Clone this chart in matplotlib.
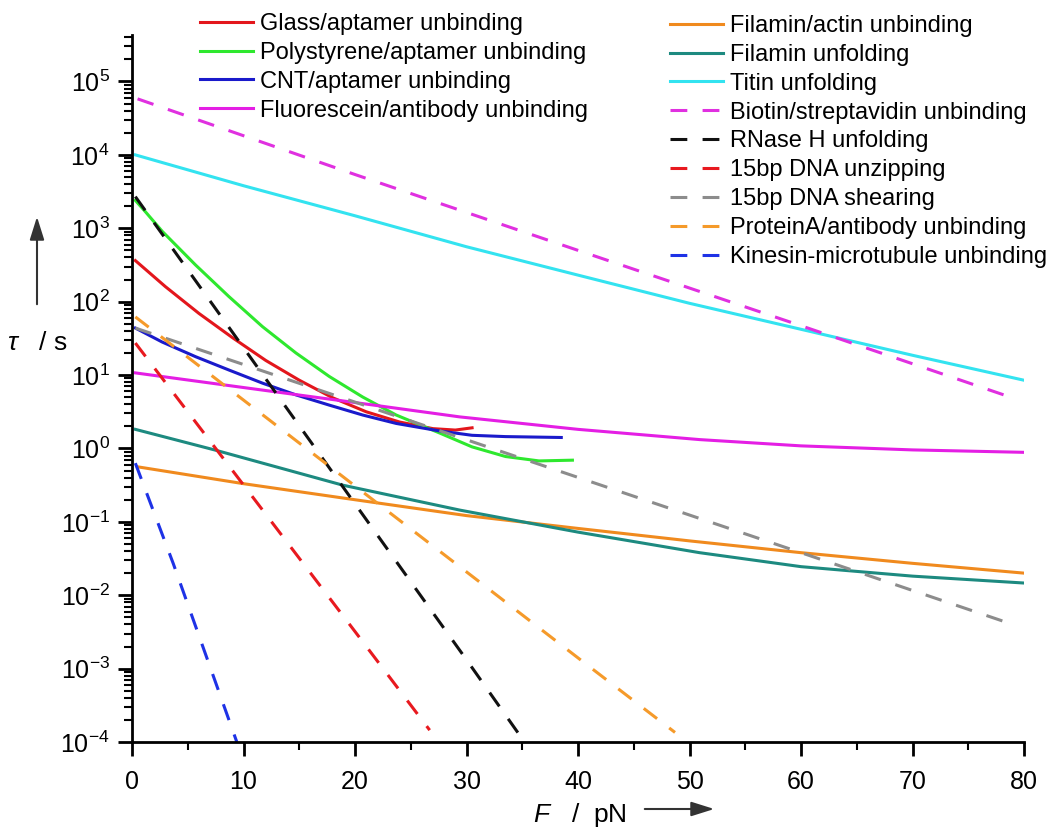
import matplotlib
matplotlib.use("Agg")
import matplotlib.pyplot as plt
import numpy as np
from matplotlib.patches import FancyArrowPatch
from matplotlib.ticker import LogLocator, MultipleLocator, NullFormatter

# force values (pN) and lifetimes (s)
glass_x = [0.3, 3, 6, 9, 12, 15, 18, 21, 24, 27, 29, 30.5]
glass_y = [363, 160, 69.2, 32.4, 15.8, 8.51, 4.90, 3.16, 2.29, 1.86, 1.78, 1.91]

poly_x = [0.3, 1.2, 2.7, 5.7, 8.7, 11.7, 14.7, 17.7, 20.7, 23.7, 27.6, 30.5, 33.5, 36.5, 39.5]
poly_y = [2400, 1680, 912, 316, 117, 45.7, 20.0, 9.55, 5.01, 2.85, 1.62, 1.05, 0.776, 0.676, 0.692]

cnt_x = [0.3, 2.7, 5.7, 8.7, 11.7, 14.7, 17.7, 20.7, 23.7, 27.6, 30.5, 33.5, 38.5]
cnt_y = [43.7, 28.2, 17.8, 11.7, 7.76, 5.37, 3.89, 2.85, 2.19, 1.73, 1.51, 1.45, 1.41]

fluo_x = [0.3, 10, 20, 29.4, 40, 50.9, 60, 70, 80]
fluo_y = [10.7, 6.76, 4.22, 2.69, 1.82, 1.32, 1.084, 0.955, 0.885]

filact_x = [0.5, 10, 20, 30, 40, 50, 60, 70, 80]
filact_y = [0.562, 0.331, 0.200, 0.1216, 0.0813, 0.0550, 0.0380, 0.0272, 0.020]

filunf_x = [0.3, 7.4, 18.9, 29.4, 40, 50.9, 60, 70, 80]
filunf_y = [1.82, 0.955, 0.316, 0.1445, 0.0724, 0.038, 0.0245, 0.0182, 0.01466]

titin_x = [0.3, 10, 20, 30, 40, 50, 60, 70, 80]
titin_y = [1.0e4, 3.8e3, 1.48e3, 560, 230, 95, 42, 18.6, 8.5]

biotin_x = [0.5, 20, 40, 60, 79.3]
biotin_y = [5.8e4, 5.4e3, 500, 47, 4.7]

rnase_x = [0.3, 10, 20, 30, 35.2]
rnase_y = [2.7e3, 23.6, 0.176, 1.32e-3, 1.0e-4]

unzip_x = [0.3, 10, 20, 26.7]
unzip_y = [27.3, 0.318, 3.2e-3, 1.45e-4]

shear_x = [0.3, 20, 40, 60, 79.2]
shear_y = [43.7, 4.28, 0.403, 0.038, 3.9e-3]

protA_x = [0.3, 10, 20, 30, 40, 48.7]
protA_y = [62, 4.56, 0.308, 0.0208, 1.4e-3, 1.35e-4]

kinesin_x = [0.3, 3.7, 9.4]
kinesin_y = [0.63, 0.027, 1.0e-4]

solid_series = [
    ("Glass/aptamer unbinding", glass_x, glass_y, "#e3161c"),
    ("Polystyrene/aptamer unbinding", poly_x, poly_y, "#2ee82e"),
    ("CNT/aptamer unbinding", cnt_x, cnt_y, "#1a1acb"),
    ("Fluorescein/antibody unbinding", fluo_x, fluo_y, "#e41ee4"),
    ("Filamin/actin unbinding", filact_x, filact_y, "#f08a1e"),
    ("Filamin unfolding", filunf_x, filunf_y, "#1d8a80"),
    ("Titin unfolding", titin_x, titin_y, "#33e3f0"),
]
dashed_series = [
    ("Biotin/streptavidin unbinding", biotin_x, biotin_y, "#e030e0"),
    ("RNase H unfolding", rnase_x, rnase_y, "#111111"),
    ("15bp DNA unzipping", unzip_x, unzip_y, "#e8191f"),
    ("15bp DNA shearing", shear_x, shear_y, "#8c8c8c"),
    ("ProteinA/antibody unbinding", protA_x, protA_y, "#f59a2a"),
    ("Kinesin-microtubule unbinding", kinesin_x, kinesin_y, "#1e32e6"),
]

plt.rcParams["font.family"] = "Liberation Sans"
plt.rcParams["mathtext.fontset"] = "custom"
plt.rcParams["mathtext.rm"] = "Liberation Sans"
plt.rcParams["mathtext.it"] = "Liberation Sans:italic"

W, H = 1050, 833
fig = plt.figure(figsize=(W / 100, H / 100), dpi=100)
ax = fig.add_axes([132 / W, 91 / H, 892 / W, 707 / H])

handles = []
for name, xs, ys, col in solid_series:
    (ln,) = ax.plot(xs, ys, color=col, lw=2.2, label=name)
    handles.append(ln)
for name, xs, ys, col in dashed_series:
    (ln,) = ax.plot(xs, ys, color=col, lw=2.2, ls=(0, (5.5, 5)), label=name)
    handles.append(ln)

ax.set_yscale("log")
ax.set_xlim(0, 80)
ax.set_ylim(1e-4, 4.3e5)

ax.xaxis.set_major_locator(MultipleLocator(10))
ax.xaxis.set_minor_locator(MultipleLocator(5))
ax.yaxis.set_major_locator(LogLocator(base=10, numticks=30))
ax.yaxis.set_minor_locator(LogLocator(base=10, subs=np.arange(2, 10) * 1.0, numticks=200))
ax.yaxis.set_minor_formatter(NullFormatter())

for side in ("top", "right"):
    ax.spines[side].set_visible(False)
for side in ("left", "bottom"):
    ax.spines[side].set_linewidth(2)

ax.tick_params(which="major", direction="out", length=10, width=2, labelsize=18, pad=6)
ax.tick_params(which="minor", direction="out", length=6, width=1.5)
ax.tick_params(axis="x", which="major", pad=10)

leg_kw = dict(frameon=False, fontsize=17, handlelength=2.25, handletextpad=0.3,
              labelspacing=0.29, borderpad=0, borderaxespad=0,
              bbox_transform=fig.transFigure, loc="upper left")
leg1 = ax.legend(handles=handles[:4], bbox_to_anchor=(200 / W, 1 - 13 / H), **leg_kw)
ax.add_artist(leg1)
ax.legend(handles=handles[4:], bbox_to_anchor=(670 / W, 1 - 15 / H), **leg_kw)

# axis labels with arrows, as in the original figure
fig.text(37 / W, 1 - 343 / H, r"$\tau$   / s", ha="center", va="center", fontsize=19)
fig.text(580 / W, 1 - 815 / H, r"$F$   /  pN", ha="center", va="center", fontsize=19)
arrow = dict(arrowstyle="-|>,head_length=0.7,head_width=0.22", color="#333333",
             lw=1.5, mutation_scale=20, transform=fig.transFigure)
fig.add_artist(FancyArrowPatch((37 / W, 1 - 307 / H), (37 / W, 1 - 214 / H), **arrow))
fig.add_artist(FancyArrowPatch((642 / W, 1 - 809 / H), (717 / W, 1 - 809 / H), **arrow))

fig.savefig("out.png", dpi=100)
